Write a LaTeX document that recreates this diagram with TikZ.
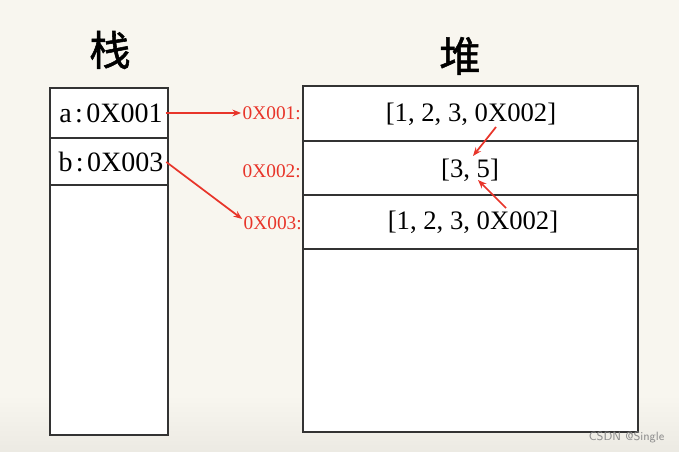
\documentclass[tikz,border=0pt]{standalone}
\usepackage{fontspec}
\setmainfont{Liberation Serif}
\newfontfamily\cjk[FakeBold=1.3]{Noto Sans CJK SC}
\usetikzlibrary{arrows.meta}
\definecolor{bgc}{HTML}{F8F6EF}
\definecolor{bgd}{HTML}{ECEAE3}
\definecolor{redc}{HTML}{E8352A}
\begin{document}
\begin{tikzpicture}[x=0.75pt,y=-0.75pt,
  cell/.style={draw=black!80,line width=0.9pt,fill=white},
  val/.style={font=\fontsize{20}{22}\selectfont,inner sep=0pt},
  addr/.style={font=\fontsize{14.5}{16}\selectfont,text=redc,inner sep=0pt},
  title/.style={font=\cjk\fontsize{31}{34}\selectfont,inner sep=0pt},
  ptr/.style={draw=redc,line width=1.3pt,-{Stealth[length=6.5pt,width=5pt]}}]
\useasboundingbox (0,0) rectangle (679,452);
\fill[bgc] (0,0) rectangle (679,452);
\shade[top color=bgc,bottom color=bgd] (0,395) rectangle (679,452);
% titles
\node[title] (tstack) at (110,50) {栈};
\node[title] (theap) at (460,56) {堆};
% stack
\draw[cell] (50,88) rectangle (168,435);
\draw[cell] (50,138) -- (168,138);
\draw[cell] (50,185) -- (168,185);
\node[val,font=\fontsize{21}{22}\selectfont] (a) at (111,113) {a\hspace{0.12em}:\hspace{0.12em}0X001};
\node[val,font=\fontsize{21}{22}\selectfont] (b) at (111,162) {b\hspace{0.12em}:\hspace{0.12em}0X003};
% heap
\draw[cell] (303,86) rectangle (638,432);
\draw[cell] (303,141) -- (638,141);
\draw[cell] (303,195) -- (638,195);
\draw[cell] (303,249) -- (638,249);
\node[val] (h1) at (471,114) {[1, 2, 3, 0X002]};
\node[val] (h2) at (470,170) {[3, 5]};
\node[val] (h3) at (473,222) {[1, 2, 3, 0X002]};
% addresses
\node[addr,anchor=east] (l1) at (301,113) {0X001:};
\node[addr,anchor=east] (l2) at (301,171) {0X002:};
\node[addr,anchor=east] (l3) at (302,223) {0X003:};
% pointers
\draw[ptr] ([xshift=2pt]a.east) -- ([xshift=-1pt]l1.west);
\draw[ptr] ([xshift=2pt]b.east) -- ([xshift=-1pt,yshift=3pt]l3.west);
\coordinate (s1) at (496,127);
\coordinate (e1) at (473,156);
\coordinate (s2) at (506,208);
\coordinate (e2) at (478,180);
\draw[ptr] (s1) -- (e1);
\draw[ptr] (s2) -- (e2);
% watermark
\node[font=\fontfamily{}\sffamily\fontsize{9}{10}\selectfont,text=black!45,anchor=east] (wm) at (669,437) {CSDN @Single};
\end{tikzpicture}
\end{document}
